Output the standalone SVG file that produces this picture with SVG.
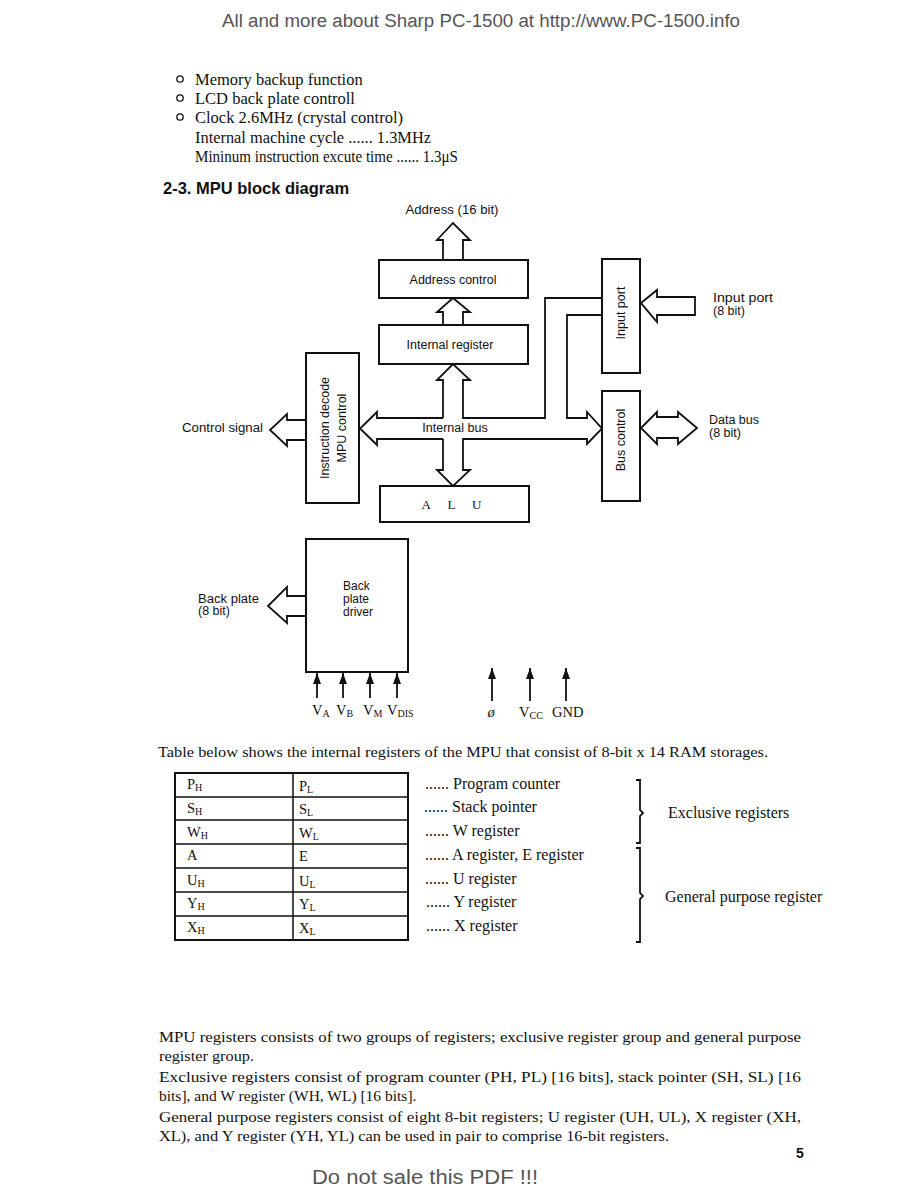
<svg xmlns="http://www.w3.org/2000/svg" width="918" height="1188" viewBox="0 0 918 1188">
<style>
.s{font-family:"Liberation Sans",Arial,sans-serif;fill:#111}
.t{font-family:"Liberation Serif","Times New Roman",serif;fill:#111}
.box{fill:none;stroke:#111;stroke-width:2}
.w{fill:none;stroke:#111;stroke-width:1.8;stroke-linejoin:miter}
.g{font-family:"Liberation Sans",Arial,sans-serif;fill:#555}
</style>
<defs>
<marker id="ah" viewBox="0 0 11 8" refX="11" refY="4" markerWidth="11" markerHeight="8" markerUnits="userSpaceOnUse" orient="auto">
<path d="M0,0 L11,4 L0,8 z" fill="#111"/>
</marker>
</defs>
<rect width="918" height="1188" fill="#fff"/>
<text class="g" x="222" y="27" font-size="18" textLength="518" lengthAdjust="spacingAndGlyphs">All and more about Sharp PC-1500 at http://www.PC-1500.info</text>

<g id="intro" class="t" font-size="16.5">
<circle cx="180" cy="79" r="3.2" fill="none" stroke="#111" stroke-width="1.3"/>
<circle cx="180" cy="98" r="3.2" fill="none" stroke="#111" stroke-width="1.3"/>
<circle cx="180" cy="117" r="3.2" fill="none" stroke="#111" stroke-width="1.3"/>
<text x="195" y="85">Memory backup function</text>
<text x="195" y="104">LCD back plate controll</text>
<text x="195" y="123">Clock 2.6MHz (crystal control)</text>
<text x="195" y="143" font-size="16" textLength="236" lengthAdjust="spacingAndGlyphs">Internal machine cycle ...... 1.3MHz</text>
<text x="195" y="162" font-size="16" textLength="263" lengthAdjust="spacingAndGlyphs">Mininum instruction excute time ...... 1.3μS</text>
</g>
<text class="s" x="163" y="194" font-size="16.5" font-weight="bold">2-3.  MPU block diagram</text>

<g id="connectors">
<path class="w" d="M443,260 L443,240 L437,240 L453,223 L470,240 L463,240 L463,260"/>
<path class="w" d="M443,325 L443,312 L437,312 L453,298 L470,312 L463,312 L463,325"/>
<path class="w" d="M443,418 L443,380 L437,380 L453,364 L470,380 L463,380 L463,418 L545,418 L545,298 L602,298"/>
<path class="w" d="M443,439 L443,470 L437,470 L453,486 L470,470 L463,470 L463,439 L587,439 L587,444 L602,428.5 L587,412 L587,418 L567,418 L567,315 L602,315"/>
<path class="w" d="M443,418 L377,418 L377,412 L360,428.5 L377,445 L377,439 L443,439"/>
<path class="w" d="M306,420 L287,420 L287,414 L270,430 L287,446 L287,440 L306,440"/>
<path class="w" d="M641,303 L657,290 L657,297 L695,297 L695,315 L657,315 L657,322 Z"/>
<path class="w" d="M641,428 L657,412 L657,417 L678,417 L678,412 L697,428 L678,444 L678,438 L657,438 L657,444 Z"/>
<path class="w" d="M306,596 L287,596 L287,587 L268,606 L287,623 L287,616 L306,616"/>
<g stroke="#111" stroke-width="1.8" marker-end="url(#ah)">
<line x1="317" y1="698" x2="317" y2="673"/>
<line x1="343" y1="698" x2="343" y2="673"/>
<line x1="370" y1="698" x2="370" y2="673"/>
<line x1="397" y1="698" x2="397" y2="673"/>
<line x1="492" y1="701" x2="492" y2="668"/>
<line x1="530" y1="701" x2="530" y2="668"/>
<line x1="566" y1="701" x2="566" y2="668"/>
</g>
</g>

<g id="address-control"><rect class="box" x="379" y="260" width="149" height="38"/>
<text class="s" x="453" y="284" font-size="12.5" text-anchor="middle">Address control</text></g>
<g id="internal-register"><rect class="box" x="379" y="325" width="149" height="39"/>
<text class="s" x="450" y="349" font-size="12.5" text-anchor="middle">Internal  register</text></g>
<g id="instruction-decode"><rect class="box" x="306" y="353" width="53" height="150"/>
<text class="s" font-size="12.5" text-anchor="middle" transform="translate(329,428) rotate(-90)">Instruction decode</text>
<text class="s" font-size="12.5" text-anchor="middle" transform="translate(346,428) rotate(-90)">MPU control</text></g>
<g id="alu"><rect class="box" x="380" y="486" width="149" height="36"/>
<text class="t" x="455" y="509" font-size="13" text-anchor="middle" letter-spacing="7">A L U</text></g>
<g id="input-port"><rect class="box" x="602" y="259" width="38" height="114"/>
<text class="s" font-size="12.5" text-anchor="middle" transform="translate(625,313) rotate(-90)">Input port</text></g>
<g id="bus-control"><rect class="box" x="602" y="391" width="38" height="110"/>
<text class="s" font-size="12.5" text-anchor="middle" transform="translate(625,440) rotate(-90)">Bus control</text></g>
<g id="back-plate-driver"><rect class="box" x="306" y="539" width="102" height="133"/>
<text class="s" font-size="12"><tspan x="343" y="590">Back</tspan><tspan x="343" y="603">plate</tspan><tspan x="343" y="616">driver</tspan></text></g>

<g id="labels" class="s" font-size="12.5">
<text x="452" y="214" text-anchor="middle" textLength="93" lengthAdjust="spacingAndGlyphs">Address (16 bit)</text>
<text x="182" y="432" textLength="81" lengthAdjust="spacingAndGlyphs">Control signal</text>
<text x="455" y="432" text-anchor="middle">Internal bus</text>
<text x="713" y="302" textLength="60" lengthAdjust="spacingAndGlyphs">Input port</text><text x="713" y="315">(8 bit)</text>
<text x="709" y="424" textLength="50" lengthAdjust="spacingAndGlyphs">Data bus</text><text x="709" y="437">(8 bit)</text>
<text x="198" y="603" textLength="61" lengthAdjust="spacingAndGlyphs">Back plate</text><text x="198" y="615">(8 bit)</text>
</g>
<g id="pins" class="t" font-size="14.5">
<text x="312" y="715">V<tspan font-size="10" dy="2">A</tspan></text>
<text x="336" y="715">V<tspan font-size="10" dy="2">B</tspan></text>
<text x="363" y="715">V<tspan font-size="10" dy="2">M</tspan></text>
<text x="387" y="715">V<tspan font-size="10" dy="2">DIS</tspan></text>
<text x="491" y="717" text-anchor="middle" font-style="italic">ø</text>
<text x="519" y="717">V<tspan font-size="10" dy="2">CC</tspan></text>
<text x="552" y="717">GND</text>
</g>

<text class="t" x="158" y="757" font-size="15" textLength="610" lengthAdjust="spacingAndGlyphs">Table below shows the internal registers of the MPU that consist of 8-bit x 14 RAM storages.</text>

<g id="register-table">
<rect x="175" y="773" width="233" height="167" fill="none" stroke="#111" stroke-width="2"/>
<g stroke="#111" stroke-width="1.5">
<line x1="293" y1="773" x2="293" y2="940"/>
<line x1="175" y1="797" x2="408" y2="797"/>
<line x1="175" y1="820" x2="408" y2="820"/>
<line x1="175" y1="844" x2="408" y2="844"/>
<line x1="175" y1="868" x2="408" y2="868"/>
<line x1="175" y1="892" x2="408" y2="892"/>
<line x1="175" y1="916" x2="408" y2="916"/>
</g>
<g class="t" font-size="14.5">
<text x="187" y="789">P<tspan font-size="10" dy="2">H</tspan></text><text x="299" y="791">P<tspan font-size="10" dy="2">L</tspan></text>
<text x="187" y="813">S<tspan font-size="10" dy="2">H</tspan></text><text x="299" y="814">S<tspan font-size="10" dy="2">L</tspan></text>
<text x="187" y="837">W<tspan font-size="10" dy="2">H</tspan></text><text x="299" y="838">W<tspan font-size="10" dy="2">L</tspan></text>
<text x="187" y="860">A</text><text x="299" y="861">E</text>
<text x="187" y="885">U<tspan font-size="10" dy="2">H</tspan></text><text x="299" y="886">U<tspan font-size="10" dy="2">L</tspan></text>
<text x="187" y="908">Y<tspan font-size="10" dy="2">H</tspan></text><text x="299" y="909">Y<tspan font-size="10" dy="2">L</tspan></text>
<text x="187" y="932">X<tspan font-size="10" dy="2">H</tspan></text><text x="299" y="933">X<tspan font-size="10" dy="2">L</tspan></text>
</g>
<g class="t" font-size="16">
<text x="425" y="789">...... Program counter</text>
<text x="424" y="812">...... Stack pointer</text>
<text x="425" y="836">...... W register</text>
<text x="425" y="860">...... A register, E register</text>
<text x="425" y="884">...... U register</text>
<text x="426" y="907">...... Y register</text>
<text x="426" y="931">...... X register</text>
<text x="668" y="818">Exclusive registers</text>
<text x="665" y="902">General purpose register</text>
</g>
<path class="w" stroke-width="1.4" d="M636,780 L640,780 L640,810 L643,813 L640,816 L640,843 L636,843"/>
<path class="w" stroke-width="1.4" d="M636,848 L640,848 L640,893 L643,896 L640,899 L640,942 L636,942"/>
</g>

<g id="paragraph" class="t" font-size="15.5">
<text x="159" y="1042" textLength="642" lengthAdjust="spacingAndGlyphs">MPU registers consists of two groups of registers; exclusive register group and general purpose</text>
<text x="159" y="1061" textLength="95" lengthAdjust="spacingAndGlyphs">register group.</text>
<text x="159" y="1082" textLength="642" lengthAdjust="spacingAndGlyphs">Exclusive registers consist of program counter (PH, PL) [16 bits], stack pointer (SH, SL) [16</text>
<text x="159" y="1101">bits], and W register (WH, WL) [16 bits].</text>
<text x="159" y="1122" textLength="642" lengthAdjust="spacingAndGlyphs">General purpose registers consist of eight 8-bit registers; U register (UH, UL), X register (XH,</text>
<text x="159" y="1141" textLength="510" lengthAdjust="spacingAndGlyphs">XL), and Y register (YH, YL) can be used in pair to comprise 16-bit registers.</text>
</g>
<text class="s" x="796" y="1158" font-size="14" font-weight="bold">5</text>
<text class="g" x="312" y="1184" font-size="20" textLength="226" lengthAdjust="spacingAndGlyphs">Do not sale this PDF !!!</text>
</svg>
